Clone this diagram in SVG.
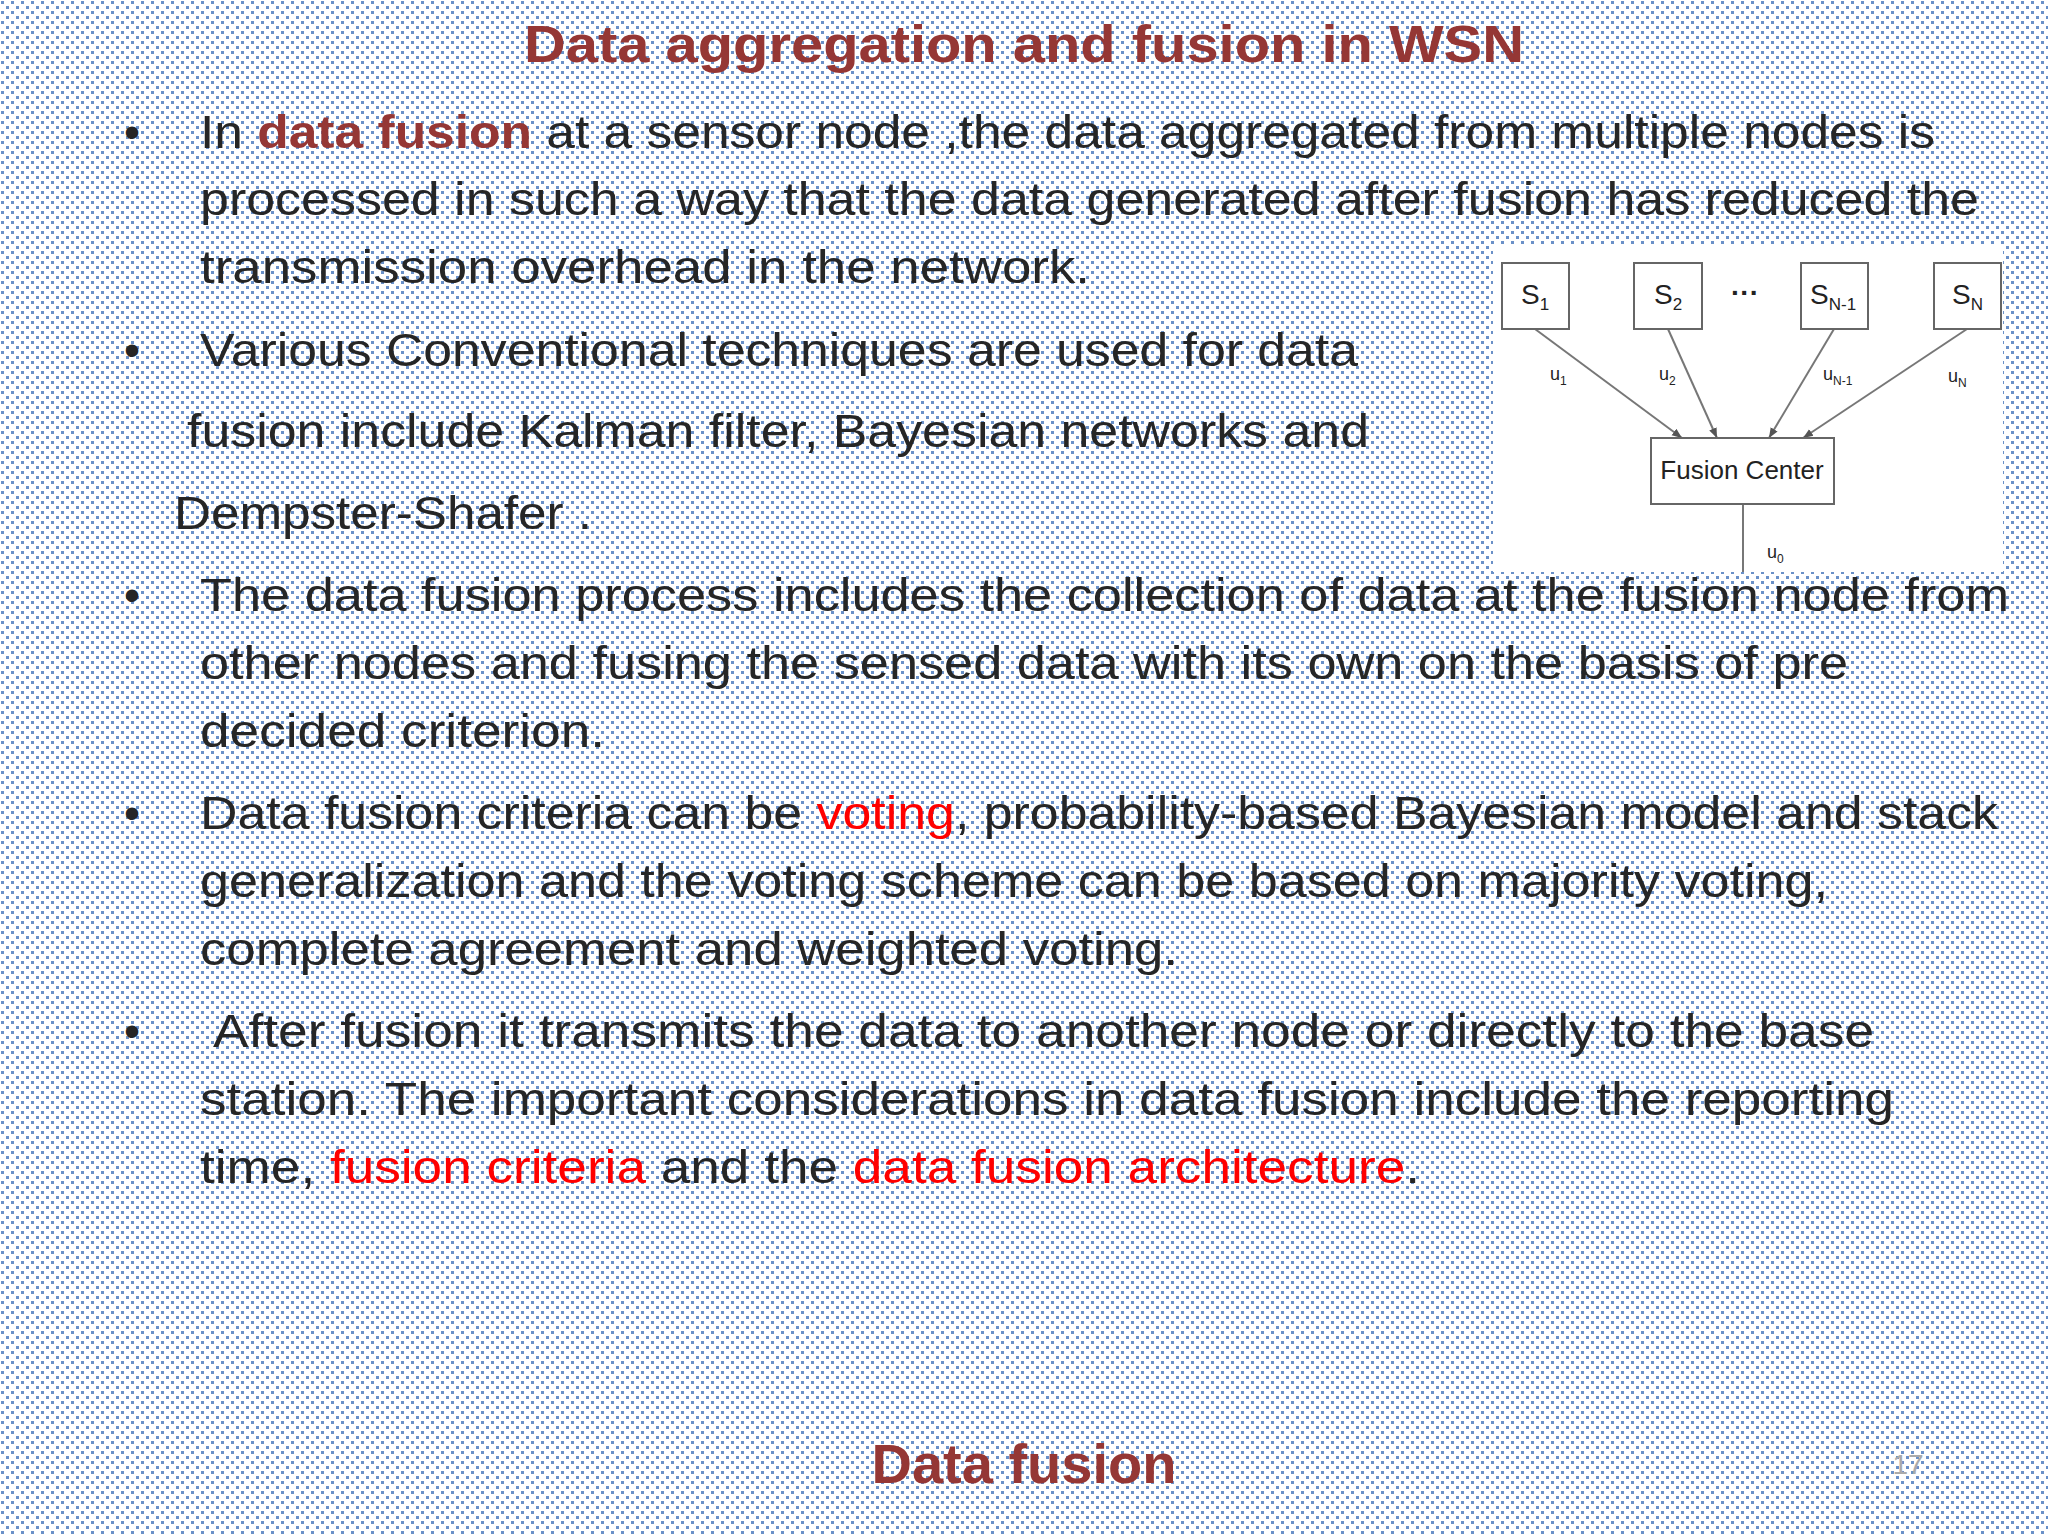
<svg xmlns="http://www.w3.org/2000/svg" width="2048" height="1536" viewBox="0 0 2048 1536">
<defs>
<pattern id="dots" width="10" height="10" patternUnits="userSpaceOnUse">
<rect width="10" height="10" fill="#fff"/>
<rect x="1" y="1" width="3" height="3" fill="#6a90c8"/>
<rect x="6" y="6" width="3" height="3" fill="#6a90c8"/>
</pattern>
<marker id="ah" markerWidth="6" markerHeight="6" refX="5" refY="3" orient="auto"><path d="M0,1 L5,3 L0,5z" fill="#555"/></marker>
</defs>
<style>
.t{font-family:"Liberation Sans",Arial,sans-serif;font-size:46px;fill:#262626}
.h{font-family:"Liberation Sans",Arial,sans-serif;font-weight:bold;fill:#953735}
.r{fill:#ff0000}
.b{fill:#fff;stroke:#666;stroke-width:2}
.d{font-family:"Liberation Sans",Arial,sans-serif;fill:#222}
.c{stroke:#777;stroke-width:2;fill:none}
</style>
<rect width="2048" height="1536" fill="url(#dots)"/>
<text class="h" x="1024" y="62" font-size="52" text-anchor="middle" textLength="1000" lengthAdjust="spacingAndGlyphs">Data aggregation and fusion in WSN</text>
<g id="text">
<text class="t" x="124" y="148">•</text>
<text class="t" x="200" y="148" textLength="1735" lengthAdjust="spacingAndGlyphs">In <tspan class="h">data fusion</tspan> at a sensor node ,the data aggregated from multiple nodes is</text>
<text class="t" x="200" y="215" textLength="1779" lengthAdjust="spacingAndGlyphs">processed in such a way that the data generated after fusion has reduced the</text>
<text class="t" x="200" y="283" textLength="890" lengthAdjust="spacingAndGlyphs">transmission overhead in the network.</text>
<text class="t" x="124" y="366">•</text>
<text class="t" x="200" y="366" textLength="1158" lengthAdjust="spacingAndGlyphs">Various Conventional techniques are used for data</text>
<text class="t" x="187" y="447" textLength="1182" lengthAdjust="spacingAndGlyphs">fusion include Kalman filter, Bayesian networks and</text>
<text class="t" x="174" y="529" textLength="418" lengthAdjust="spacingAndGlyphs">Dempster-Shafer .</text>
<text class="t" x="124" y="611">•</text>
<text class="t" x="200" y="611" textLength="1809" lengthAdjust="spacingAndGlyphs">The data fusion process includes the collection of data at the fusion node from</text>
<text class="t" x="200" y="679" textLength="1648" lengthAdjust="spacingAndGlyphs">other nodes and fusing the sensed data with its own on the basis of pre</text>
<text class="t" x="200" y="747" textLength="405" lengthAdjust="spacingAndGlyphs">decided criterion.</text>
<text class="t" x="124" y="829">•</text>
<text class="t" x="200" y="829" textLength="1798" lengthAdjust="spacingAndGlyphs">Data fusion criteria can be <tspan class="r">voting</tspan>, probability-based Bayesian model and stack</text>
<text class="t" x="200" y="897" textLength="1628" lengthAdjust="spacingAndGlyphs">generalization and the voting scheme can be based on majority voting,</text>
<text class="t" x="200" y="965" textLength="978" lengthAdjust="spacingAndGlyphs">complete agreement and weighted voting.</text>
<text class="t" x="124" y="1047">•</text>
<text class="t" x="213" y="1047" textLength="1661" lengthAdjust="spacingAndGlyphs">After fusion it transmits the data to another node or directly to the base</text>
<text class="t" x="200" y="1115" textLength="1694" lengthAdjust="spacingAndGlyphs">station. The important considerations in data fusion include the reporting</text>
<text class="t" x="200" y="1183" textLength="1220" lengthAdjust="spacingAndGlyphs">time, <tspan class="r">fusion criteria</tspan> and the <tspan class="r">data fusion architecture</tspan>.</text>
</g>
<rect x="1493" y="245" width="510" height="327" fill="#fff"/>
<g id="connectors">
<line class="c" x1="1535" y1="329" x2="1682" y2="438" marker-end="url(#ah)"/>
<line class="c" x1="1668" y1="329" x2="1717" y2="438" marker-end="url(#ah)"/>
<line class="c" x1="1834" y1="329" x2="1769" y2="438" marker-end="url(#ah)"/>
<line class="c" x1="1967" y1="329" x2="1803" y2="438" marker-end="url(#ah)"/>
<line class="c" x1="1743" y1="504" x2="1743" y2="572"/>
<text class="d" x="1550" y="380" font-size="18">u<tspan font-size="12" dy="5">1</tspan></text>
<text class="d" x="1659" y="380" font-size="18">u<tspan font-size="12" dy="5">2</tspan></text>
<text class="d" x="1823" y="380" font-size="18">u<tspan font-size="12" dy="5">N-1</tspan></text>
<text class="d" x="1948" y="382" font-size="18">u<tspan font-size="12" dy="5">N</tspan></text>
<text class="d" x="1767" y="558" font-size="18">u<tspan font-size="12" dy="5">0</tspan></text>
<text class="d" x="1731" y="302" font-size="28" font-weight="bold">···</text>
</g>
<g id="s1"><rect class="b" x="1502" y="263" width="67" height="66"/><text class="d" x="1521" y="304" font-size="28">S<tspan font-size="17" dy="6">1</tspan></text></g>
<g id="s2"><rect class="b" x="1634" y="263" width="68" height="66"/><text class="d" x="1654" y="304" font-size="28">S<tspan font-size="17" dy="6">2</tspan></text></g>
<g id="sn1"><rect class="b" x="1801" y="263" width="67" height="66"/><text class="d" x="1810" y="304" font-size="28">S<tspan font-size="17" dy="6">N-1</tspan></text></g>
<g id="sn"><rect class="b" x="1934" y="263" width="67" height="66"/><text class="d" x="1952" y="304" font-size="28">S<tspan font-size="17" dy="6">N</tspan></text></g>
<g id="fc"><rect class="b" x="1651" y="438" width="183" height="66"/><text class="d" x="1742" y="479" font-size="26" text-anchor="middle">Fusion Center</text></g>
<text class="h" x="1024" y="1483" font-size="56" text-anchor="middle">Data fusion</text>
<text x="1908" y="1474" font-family="Liberation Sans,sans-serif" font-size="28" fill="#aaa" text-anchor="middle">17</text>
</svg>
